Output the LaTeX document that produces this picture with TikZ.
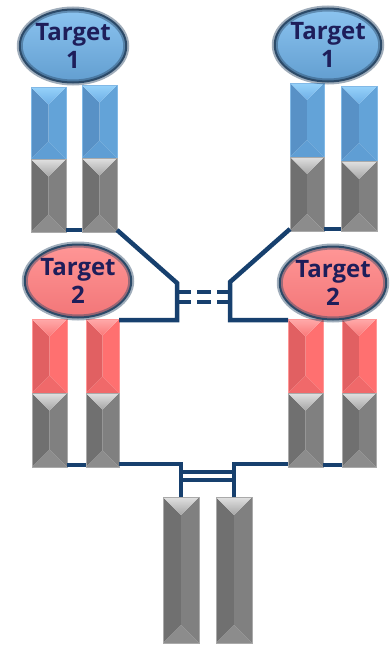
\documentclass[tikz,border=0pt]{standalone}
\usepackage{fontspec}
\newfontfamily\tgtfont{Open Sans}
\usetikzlibrary{shapes.geometric,calc}
\definecolor{navy}{HTML}{17406E}
\definecolor{txtc}{HTML}{1E1E5A}
\definecolor{rim}{HTML}{2C4A68}
\definecolor{bTa}{RGB}{150,210,250}
\definecolor{bTb}{RGB}{110,175,230}
\definecolor{bLc}{RGB}{88,145,198}
\definecolor{bRc}{RGB}{99,163,216}
\definecolor{bBc}{RGB}{95,158,212}
\definecolor{bEc}{RGB}{130,185,230}
\definecolor{gTa}{RGB}{225,225,225}
\definecolor{gTb}{RGB}{165,165,165}
\definecolor{gLc}{RGB}{112,112,112}
\definecolor{gRc}{RGB}{128,128,128}
\definecolor{gBc}{RGB}{140,140,140}
\definecolor{gEc}{RGB}{170,170,170}
\definecolor{rTa}{RGB}{255,170,170}
\definecolor{rTb}{RGB}{250,120,120}
\definecolor{rLc}{RGB}{225,96,98}
\definecolor{rRc}{RGB}{255,112,112}
\definecolor{rBc}{RGB}{240,105,106}
\definecolor{rEc}{RGB}{255,150,150}
\definecolor{tbTop}{RGB}{140,196,240}
\definecolor{tbBot}{RGB}{98,158,208}
\definecolor{trTop}{RGB}{255,150,150}
\definecolor{trBot}{RGB}{242,118,120}
\tikzset{
  segbox/.style={rectangle, inner sep=0pt, outer sep=0pt, line width=0.6pt},
  target/.style={ellipse, inner sep=0pt, minimum width=105pt, minimum height=73pt,
    draw=rim, draw opacity=0.45, line width=6pt,
    postaction={draw=rim, draw opacity=1, line width=2pt},
    font=\tgtfont\bfseries\fontsize{24}{28}\selectfont,
    text=txtc, align=center},
  tblue/.style={top color=tbTop, bottom color=tbBot},
  tred/.style={top color=trTop, bottom color=trBot},
  conn/.style={draw=navy, line width=4.5pt},
}
\newcommand{\bevseg}[6]{%
  \pgfmathsetmacro{\bsxm}{(#2+#3)/2}%
  \pgfmathsetmacro{\bshh}{(#3-#2)/2}%
  \pgfmathsetmacro{\bsya}{#4+\bshh}%
  \pgfmathsetmacro{\bsyb}{#5-\bshh}%
  \pgfmathsetmacro{\bsym}{(#4+#5)/2}%
  \pgfmathsetmacro{\bsw}{#3-#2}%
  \pgfmathsetmacro{\bsh}{#5-#4}%
  \fill[#6Lc] (#2,#4) -- (\bsxm,\bsya) -- (\bsxm,\bsyb) -- (#2,#5) -- cycle;
  \fill[#6Rc] (#3,#4) -- (\bsxm,\bsya) -- (\bsxm,\bsyb) -- (#3,#5) -- cycle;
  \fill[#6Bc] (#2,#5) -- (#3,#5) -- (\bsxm,\bsyb) -- cycle;
  \shade[top color=#6Ta, bottom color=#6Tb] (#2,#4) -- (#3,#4) -- (\bsxm,\bsya) -- cycle;
  \node[segbox, draw=#6Ec, minimum width=\bsw pt, minimum height=\bsh pt] (#1) at (\bsxm,\bsym) {};
}
\begin{document}
\begin{tikzpicture}[x=1pt,y=-1pt]
\useasboundingbox (0,0) rectangle (391,645);
% top-left group
\bevseg{tl1b}{31}{66}{87}{159}{b}
\bevseg{tl1g}{31}{66}{159}{232}{g}
\bevseg{tl2b}{82}{117}{85}{158}{b}
\bevseg{tl2g}{82}{117}{158}{232}{g}
% top-right group
\bevseg{tr1b}{290}{324}{83}{157}{b}
\bevseg{tr1g}{290}{324}{157}{231}{g}
\bevseg{tr2b}{341}{377}{86}{161}{b}
\bevseg{tr2g}{341}{377}{161}{231}{g}
% middle-left group
\bevseg{ml1r}{32}{67}{319}{393}{r}
\bevseg{ml1g}{32}{67}{393}{467}{g}
\bevseg{ml2r}{86}{119}{319}{393}{r}
\bevseg{ml2g}{86}{119}{393}{467}{g}
% middle-right group
\bevseg{mr1r}{288}{323}{319}{393}{r}
\bevseg{mr1g}{288}{323}{393}{467}{g}
\bevseg{mr2r}{342}{376}{319}{393}{r}
\bevseg{mr2g}{342}{376}{393}{467}{g}
% bottom pair
\bevseg{bl}{163}{199}{497}{643}{g}
\bevseg{br}{216}{252}{497}{643}{g}
% junction points
\coordinate (jTL) at (177,283);
\coordinate (jTR) at (230,282);
\coordinate (dL1) at (177,292);
\coordinate (dR1) at (230,292);
\coordinate (dL2) at (177,302);
\coordinate (dR2) at (230,302);
% connectors
\draw[conn] ([yshift=2pt]tl1g.south east) -- ([yshift=2pt]tl2g.south west);
\draw[conn] ([yshift=2pt]tl2g.south east) -- (jTL) |- ([yshift=-1pt]ml2r.north east);
\draw[conn] ([yshift=2pt]tr1g.south east) -- ([yshift=2pt]tr2g.south west);
\draw[conn] ([yshift=2pt]tr1g.south west) -- (jTR) |- ([yshift=-1pt]mr1r.north west);
\draw[conn, dash pattern=on 14pt off 6pt] (dL1) -- (dR1);
\draw[conn, dash pattern=on 14pt off 6pt] (dL2) -- (dR2);
\draw[conn] ([yshift=2pt]ml1g.south east) -- ([yshift=2pt]ml2g.south west);
\draw[conn] ([yshift=2pt]mr1g.south east) -- ([yshift=2pt]mr2g.south west);
\draw[conn] ([yshift=3pt]ml2g.south east) -| (bl.north);
\draw[conn] ([yshift=3pt]mr1g.south west) -| (br.north);
\draw[conn] ([yshift=25pt]bl.north) -- ([yshift=25pt]br.north);
\draw[conn] ([yshift=17pt]bl.north) -- ([yshift=17pt]br.north);
% targets
\node[target, tblue] (t1l) at (73,46) {Target\\1};
\node[target, tblue] (t1r) at (328,45) {Target\\1};
\node[target, tred] (t2l) at (78,281) {Target\\2};
\node[target, tred] (t2r) at (333,283) {Target\\2};
\end{tikzpicture}
\end{document}
